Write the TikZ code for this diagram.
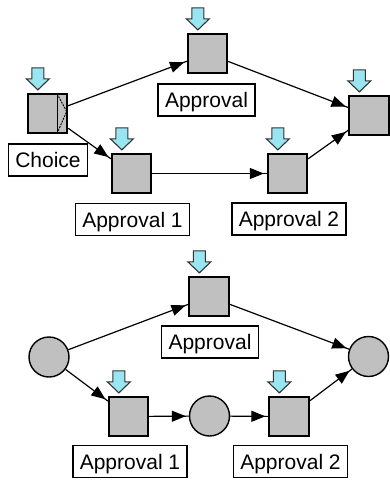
\documentclass[tikz,border=0pt]{standalone}
\usepackage{fontspec}
\setmainfont{Liberation Sans}
\usetikzlibrary{arrows.meta,decorations.markings}
\definecolor{boxgray}{RGB}{192,192,192}
\definecolor{tokcyan}{RGB}{153,230,242}
\begin{document}
\begin{tikzpicture}[x=1pt,y=-1pt,
  task/.style={rectangle,draw=black,fill=boxgray,line width=1.8pt,minimum size=39.5pt,inner sep=0pt},
  place/.style={circle,draw=black,fill=boxgray,line width=1.4pt,minimum size=40pt,inner sep=0pt},
  lbl/.style={rectangle,draw=black,fill=white,line width=1.5pt,inner xsep=7pt,inner ysep=0pt,
     minimum height=32pt,text height=15pt,text depth=0pt,font=\fontsize{21pt}{24pt}\selectfont},
  flow/.style={draw=black,line width=1.2pt,postaction={decorate},
     decoration={markings,mark=at position -3pt with {\arrow{Triangle[length=14pt,width=11pt]}}}},
  dn/.pic={\draw[fill=tokcyan,draw=black!80,line width=1.1pt,line join=miter]
     (0,0) -- (-11.5,-11) -- (-6,-11) -- (-6,-22) -- (6,-22) -- (6,-11) -- (11.5,-11) -- cycle;}
]
\useasboundingbox (0,0) rectangle (389,482);
% ---------- top net ----------
\node[task] (choice) at (47.5,113.5) {};
\node[task] (apr) at (207.5,53.5) {};
\node[task] (join) at (369,115.5) {};
\node[task] (apr1) at (131.5,173.5) {};
\node[task] (apr2) at (287.5,173.5) {};
% choice decoration
\draw[line width=1pt] ([xshift=-11pt]choice.north east) -- ([xshift=-11pt]choice.south east);
\draw[line width=0.9pt,dash pattern=on 2pt off 1pt] ([xshift=-11pt,yshift=-1pt]choice.north east) -- ([xshift=-1.5pt,yshift=2pt]choice.east) -- ([xshift=-11pt,yshift=1pt]choice.south east);
\path[flow] (choice) -- (apr);
\path[flow] (choice) -- (apr1);
\path[flow] (apr1) -- (apr2);
\path[flow] (apr) -- (join);
\path[flow] (apr2) -- (join);
\node[lbl] (choiceL) at (48,160) {Choice};
\node[lbl] (aprL) at (206.5,100) {Approval};
\node[lbl] (apr1L) at (132.5,219.5) {Approval 1};
\node[lbl] (apr2L) at (289,219) {Approval 2};
\foreach \n in {choice,apr,join,apr1,apr2}
  \pic at ([shift={(11,-3)}]\n.north west) {dn};
% ---------- bottom net ----------
\node[place] (c1) at (49,357) {};
\node[task] (bapr) at (209,296.5) {};
\node[task] (bapr1) at (128.5,416.5) {};
\node[place] (c2) at (209.5,416) {};
\node[task] (bapr2) at (289,416.5) {};
\node[place] (c3) at (368.5,356.5) {};
\path[flow] (c1) -- (bapr);
\path[flow] (c1) -- (bapr1);
\path[flow] (bapr1) -- (c2);
\path[flow] (c2) -- (bapr2);
\path[flow] (bapr) -- (c3);
\path[flow] (bapr2) -- (c3);
\node[lbl] (baprL) at (210,342) {Approval};
\node[lbl] (bapr1L) at (130,461.5) {Approval 1};
\node[lbl] (bapr2L) at (290.5,461.5) {Approval 2};
\foreach \n in {bapr,bapr1,bapr2}
  \pic at ([shift={(11,-3)}]\n.north west) {dn};
\end{tikzpicture}
\end{document}
